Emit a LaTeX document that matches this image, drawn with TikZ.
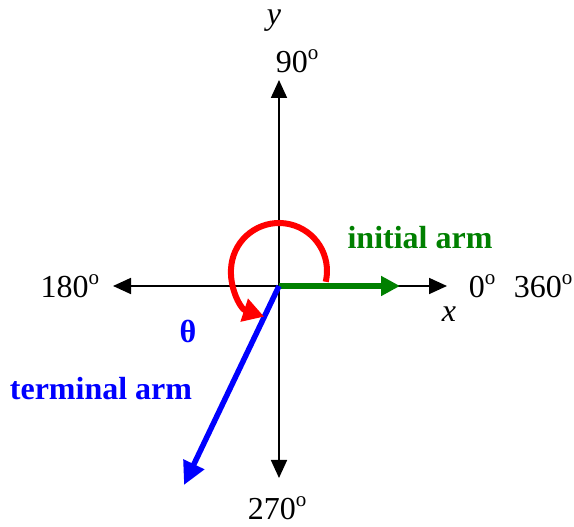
\documentclass[tikz,border=0pt]{standalone}
\usepackage{fontspec}
\setmainfont{Liberation Serif}
\usetikzlibrary{arrows.meta,calc}
\definecolor{armgreen}{RGB}{0,128,0}
\newcommand{\dg}{\raisebox{0.42em}{\fontsize{21}{21}\selectfont o}}
\begin{document}
\begin{tikzpicture}[x=1pt,y=1pt,
  lbl/.style={font=\fontsize{32}{36}\selectfont, inner sep=0pt, anchor=base},
  axis/.style={line width=1.8pt, -{Triangle[length=18pt,width=16pt]}},
  arm/.style={line width=5.5pt}]
\useasboundingbox (0,0) rectangle (574,527);
\coordinate (O) at (279,241);
\coordinate (XL) at (113,241);
\coordinate (XR) at (447,241);
\coordinate (YT) at (279,447);
\coordinate (YB) at (279,49);
\coordinate (G) at (400,241);
\coordinate (B) at (184,42);
\draw[axis] (O) -- (XL);
\draw[axis] (O) -- (XR);
\draw[axis] (O) -- (YT);
\draw[axis] (O) -- (YB);
\draw[arm, draw=armgreen, fill=armgreen, -{Triangle[length=19pt,width=19pt]}] (O) -- (G);
\draw[arm, draw=blue, fill=blue, -{Triangle[length=23pt,width=22pt]}] (O) -- (B);
\coordinate (RC) at (279,256);
\draw[red, line width=6pt, -{Triangle[length=21pt,width=23pt]}] ($(RC)+(-13:48)$) coordinate (RS) arc[start angle=-13, end angle=252, radius=48];
\node[lbl, font=\fontsize{32}{36}\selectfont\itshape] (ly) at (274,502) {y};
\node[lbl] (l90) at (297,454) {90\dg};
\node[lbl] (l180) at (70,229) {180\dg};
\node[lbl] (l0) at (482,229) {0\dg};
\node[lbl] (l360) at (543,229) {360\dg};
\node[lbl, font=\fontsize{32}{36}\selectfont\itshape] (lx) at (449,205) {x};
\node[lbl] (l270) at (277,7) {270\dg};
\node[lbl, font=\fontsize{32}{36}\selectfont\bfseries, text=armgreen] (li) at (420,278) {initial arm};
\node[lbl, font=\fontsize{32}{36}\selectfont\bfseries, text=blue] (lt) at (101,127) {terminal arm};
\node[lbl, font=\fontsize{32}{36}\selectfont\bfseries, text=blue] (lth) at (188,184) {θ};
\end{tikzpicture}
\end{document}
